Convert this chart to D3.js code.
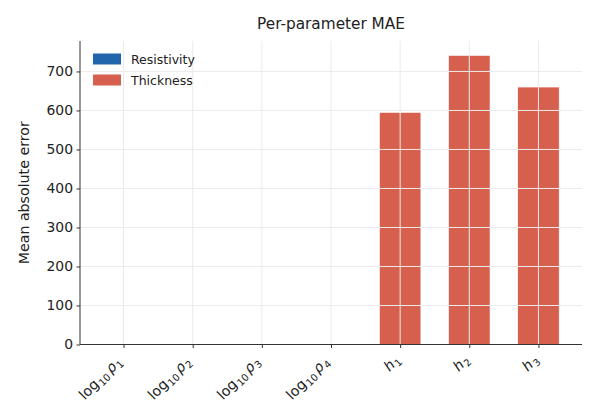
<!DOCTYPE html>
<html>
<head>
<meta charset="utf-8">
<script src="https://cdn.jsdelivr.net/npm/d3@7"></script>
<style>
  body { margin: 0; background: #fff; }
  svg { font-family: "DejaVu Sans", sans-serif; }
</style>
</head>
<body>
<svg id="chart" width="600" height="420"></svg>
<script>
const params = ['log10 rho1', 'log10 rho2', 'log10 rho3', 'log10 rho4', 'h1', 'h2', 'h3'];
const resistivityParams = ['log10 rho1', 'log10 rho2', 'log10 rho3', 'log10 rho4'];
const resistivityMAE = [0.21, 0.27, 0.33, 0.3];
const thicknessParams = ['h1', 'h2', 'h3'];
const thicknessMAE = [595, 741, 660];
const yTicks = [0, 100, 200, 300, 400, 500, 600, 700];

const colors = { Resistivity: '#2166ac', Thickness: '#d6604d' };
const barWidth = 0.6;

const svg = d3.select('#chart');
const plotLeft = 80, plotRight = 582, plotTop = 41, plotBottom = 344.5;

const x = d3.scaleLinear().domain([-0.63, params.length - 1 + 0.63]).range([plotLeft, plotRight]);
const yMax = d3.max(thicknessMAE.concat(resistivityMAE)) * 1.05;
const y = d3.scaleLinear().domain([0, yMax]).range([plotBottom, plotTop]);

// bars
const barData = resistivityParams.map((p, i) => ({ p, v: resistivityMAE[i], s: 'Resistivity' }))
    .concat(thicknessParams.map((p, i) => ({ p, v: thicknessMAE[i], s: 'Thickness' })));

svg.append('g').selectAll('rect').data(barData)
    .join('rect')
    .attr('x', d => x(params.indexOf(d.p) - barWidth / 2))
    .attr('width', d => x(barWidth) - x(0))
    .attr('y', d => y(d.v))
    .attr('height', d => y(0) - y(d.v))
    .attr('fill', d => colors[d.s])
    .attr('stroke', '#fff')
    .attr('stroke-width', 0.6);

// grid on top of the bars
const grid = svg.append('g').attr('stroke', '#ebebeb').attr('stroke-width', 1);
grid.selectAll('.gy').data(yTicks).join('line')
    .attr('x1', plotLeft).attr('x2', plotRight)
    .attr('y1', d => y(d)).attr('y2', d => y(d));
grid.selectAll('.gx').data(params).join('line')
    .attr('x1', (d, i) => x(i)).attr('x2', (d, i) => x(i))
    .attr('y1', plotTop).attr('y2', plotBottom);

// y axis
const yAxis = svg.append('g')
    .attr('transform', `translate(${plotLeft},0)`)
    .call(d3.axisLeft(y).tickValues(yTicks).tickSizeOuter(0).tickSize(3.5).tickPadding(3.5));
yAxis.select('.domain').attr('stroke', '#333').attr('d', `M0,${plotTop}V${plotBottom}`);
yAxis.selectAll('.tick line').attr('stroke', '#333');
yAxis.selectAll('.tick text').attr('font-size', '13.9px').attr('fill', '#222')
    .attr('font-family', '"DejaVu Sans", sans-serif');

// x axis
const xAxis = svg.append('g')
    .attr('transform', `translate(0,${plotBottom})`)
    .call(d3.axisBottom(x).tickValues(d3.range(params.length)).tickSizeOuter(0).tickSize(3.5).tickFormat(''));
xAxis.select('.domain').attr('stroke', '#333').attr('d', `M${plotLeft},0H${plotRight}`);
xAxis.selectAll('.tick line').attr('stroke', '#333');

// x tick labels with subscripts
const labelParts = d => {
    if (d.startsWith('log10')) {
        return [['log', 'n'], ['10', 's'], ['\u03c1', 'i'], [d.slice(-1), 's']];
    }
    return [['h', 'i'], [d.slice(-1), 's']];
};
params.forEach((p, i) => {
    const t = svg.append('text')
        .attr('transform', `translate(${x(i) - 1},${plotBottom + 18}) rotate(-45)`)
        .attr('text-anchor', 'end')
        .attr('font-size', '14.2px')
        .attr('fill', '#222');
    let sub = false;
    labelParts(p).forEach(([txt, kind]) => {
        const ts = t.append('tspan').text(txt);
        if (kind === 's') {
            ts.attr('font-size', '9.9px').attr('dy', sub ? 0 : 3).attr('dx', 0.8);
            sub = true;
        } else {
            if (sub) ts.attr('dy', -3);
            sub = false;
            if (kind === 'i') ts.attr('font-style', 'italic').attr('dx', 2.5);
        }
    });
});

// y label
svg.append('text')
    .attr('transform', `translate(29,${(plotTop + plotBottom) / 2}) rotate(-90)`)
    .attr('text-anchor', 'middle')
    .attr('font-size', '14.2px')
    .attr('fill', '#222')
    .text('Mean absolute error');

// title
svg.append('text')
    .attr('x', (plotLeft + plotRight) / 2).attr('y', 29)
    .attr('text-anchor', 'middle')
    .attr('font-size', '15.3px')
    .attr('fill', '#222')
    .text('Per-parameter MAE');

// legend
const legend = svg.append('g').attr('transform', 'translate(93,53.5)');
const legItems = legend.selectAll('g').data(Object.keys(colors))
    .join('g')
    .attr('transform', (d, i) => `translate(0,${i * 21})`);
legItems.append('rect')
    .attr('width', 28).attr('height', 11)
    .attr('fill', d => colors[d]);
legItems.append('text')
    .attr('x', 38).attr('y', 10)
    .attr('font-size', '12.5px')
    .attr('fill', '#222')
    .text(d => d);
</script>
</body>
</html>
